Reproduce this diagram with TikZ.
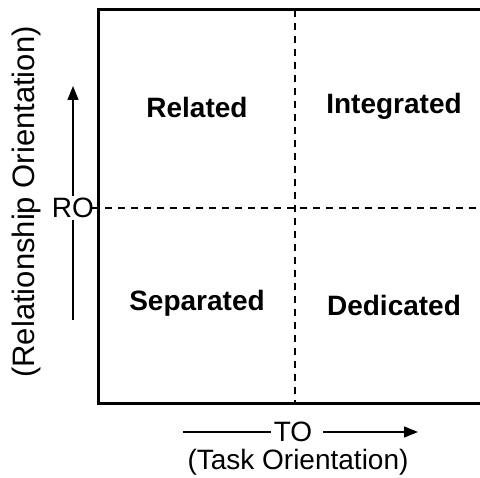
\documentclass[tikz,border=0pt]{standalone}
\usepackage{fontspec}
\setmainfont{Liberation Sans}
\usetikzlibrary{positioning, arrows.meta}

\begin{document}
\begin{tikzpicture}[x=1pt, y=-1pt, >={Triangle[length=14pt, width=11pt]},
    every node/.style={font=\fontsize{28}{30}\selectfont},
    quad/.style={font=\fontsize{28}{30}\selectfont\bfseries},
    axis/.style={line width=1.3pt},
    divider/.style={line width=1.6pt, dash pattern=on 7pt off 6pt}]
    \clip (0,0) rectangle (480,478);

    % Grid frame and dividers
    \draw [divider] (295,10) -- (295,404);
    \draw [divider] (92,208) -- (495,208);
    \draw [line width=3pt] (495,10) -- (98,10) -- (98,404) -- (495,404);

    % Quadrant labels
    \node [quad] (related) at (197,107) {Related};
    \node [quad] (integrated) at (394,106) {Integrated};
    \node [quad] (separated) at (197,303) {Separated};
    \node [quad] (dedicated) at (394,305) {Dedicated};

    % Vertical axis
    \node [inner sep=2pt] (ro) at (73,208) {RO};
    \coordinate (rolow) at (73,320);
    \coordinate (rotop) at (73,86);
    \draw [axis] (rolow) -- (ro.south);
    \draw [axis, ->] (ro.north) -- (rotop);
    \node [rotate=90, font=\fontsize{31}{33}\selectfont] (rolabel) at (26,202) {(Relationship Orientation)};

    % Horizontal axis
    \node [inner sep=3pt] (to) at (293,432) {TO};
    \coordinate (toleft) at (183,432);
    \coordinate (toright) at (418,432);
    \draw [axis] (toleft) -- (to.west);
    \draw [axis, ->] ([xshift=8pt]to.east) -- (toright);
    \node (tolabel) at (298,462) {(Task Orientation)};
\end{tikzpicture}
\end{document}
